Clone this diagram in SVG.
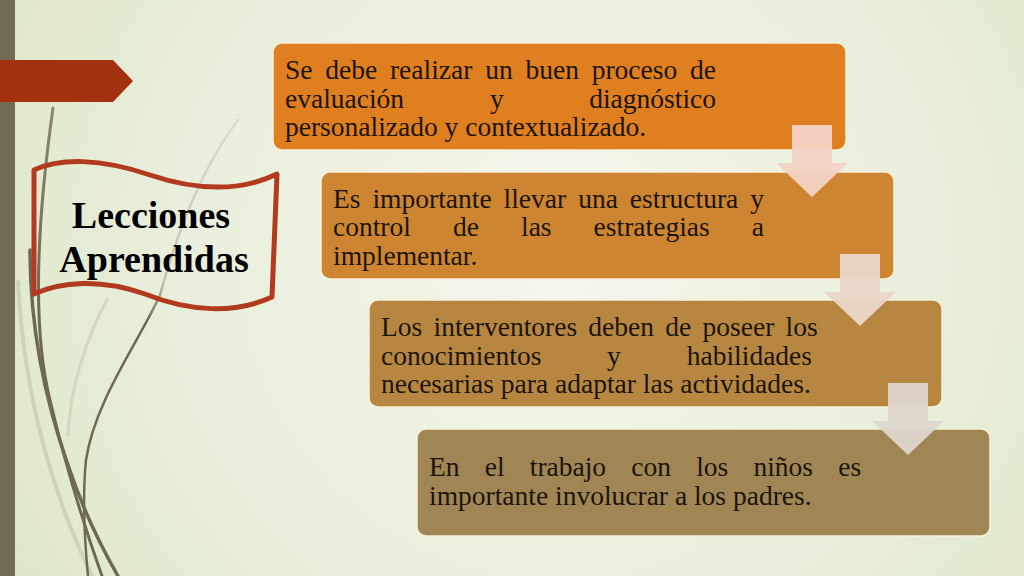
<svg xmlns="http://www.w3.org/2000/svg" width="1024" height="576" viewBox="0 0 1024 576">
<defs>
<radialGradient id="bg" cx="560" cy="260" r="620" gradientUnits="userSpaceOnUse">
<stop offset="0" stop-color="#f4f6ec"/>
<stop offset="0.6" stop-color="#e9efdc"/>
<stop offset="1" stop-color="#dfe7cb"/>
</radialGradient>
<linearGradient id="fade" gradientUnits="userSpaceOnUse" x1="0" y1="130" x2="0" y2="320">
<stop offset="0" stop-color="#d8dccb"/>
<stop offset="0.8" stop-color="#c2c4b2"/>
<stop offset="1" stop-color="#6f6852"/>
</linearGradient>
<linearGradient id="fade2" gradientUnits="userSpaceOnUse" x1="0" y1="105" x2="0" y2="300">
<stop offset="0" stop-color="#8d8670"/>
<stop offset="1" stop-color="#6f6852"/>
</linearGradient>
</defs>
<style>
.box{stroke:#f6f0d8;stroke-width:1.5}
.t{font-family:"Liberation Serif","Times New Roman",serif;font-size:27.5px;fill:#1c140a}
.title{font-family:"Liberation Serif","Times New Roman",serif;font-size:38px;font-weight:bold;fill:#000;text-anchor:middle}
.grass{fill:none;stroke-linecap:round}
</style>
<rect width="1024" height="576" fill="url(#bg)"/>
<g id="decor">
<rect x="0" y="0" width="15" height="576" fill="#736b56"/>
<path class="grass" d="M18 282 C24 400 55 500 92 576" stroke="#c5ccb3" stroke-width="4" opacity="0.75"/>
<path class="grass" d="M107 300 C85 340 70 390 68 435" stroke="#c9cfb9" stroke-width="3" opacity="0.7"/>
<path class="grass" d="M53 108 C40 200 30 320 50 400 C63 455 82 520 102 576" stroke="url(#fade2)" stroke-width="3"/>
<path class="grass" d="M30 250 C30 330 45 400 68 465 C83 510 103 550 118 576" stroke="#6f6852" stroke-width="3.5"/>
<path class="grass" d="M238 120 C200 170 175 240 160 295 C140 340 95 400 86 460 C82 500 85 545 88 576" stroke="url(#fade)" stroke-width="2.5"/>
<polygon points="0,60 113,60 133,81 113,102 0,102" fill="#a3310f"/>
</g>
<g id="banner">
<path d="M34 170 C60 158 100 158 150 175 C195 190 240 192 277 174 L272 297 C235 314 190 312 145 294 C100 278 60 282 34 294 Z" fill="none" stroke="#b23a1f" stroke-width="5" stroke-linejoin="round"/>
<text class="title" x="151" y="228">Lecciones</text>
<text class="title" x="154" y="272">Aprendidas</text>
</g>
<g id="box1">
<rect class="box" x="273" y="43" width="573" height="107" rx="9" fill="#df7f1f"/>
<text class="t" x="285" y="79" word-spacing="5.9">Se debe realizar un buen proceso de</text>
<text class="t" y="107.5"><tspan x="285">evaluación</tspan><tspan x="490">y</tspan><tspan x="716" text-anchor="end">diagnóstico</tspan></text>
<text class="t" x="285" y="136">personalizado y contextualizado.</text>
</g>
<g id="box2">
<rect class="box" x="321" y="172" width="573" height="107" rx="9" fill="#cd8531"/>
<text class="t" x="333" y="207.5" word-spacing="5.1">Es importante llevar una estructura y</text>
<text class="t" x="333" y="236" word-spacing="35.2">control de las estrategias a</text>
<text class="t" x="333" y="264.5">implementar.</text>
</g>
<g id="box3">
<rect class="box" x="369" y="300" width="573" height="107" rx="9" fill="#b78741"/>
<text class="t" x="381" y="336" word-spacing="4.4">Los interventores deben de poseer los</text>
<text class="t" y="364.5"><tspan x="381">conocimientos</tspan><tspan x="607">y</tspan><tspan x="812" text-anchor="end">habilidades</tspan></text>
<text class="t" x="381" y="393">necesarias para adaptar las actividades.</text>
</g>
<g id="box4">
<rect class="box" x="417" y="429" width="573" height="107" rx="9" fill="#a08555"/>
<text class="t" x="429" y="476" word-spacing="18.3">En el trabajo con los niños es</text>
<text class="t" x="429" y="505">importante involucrar a los padres.</text>
</g>
<g id="connectors">
<polygon points="792,125 832,125 832,163 848,163 812,197 776,163 792,163" fill="#f3d3c5" opacity="0.95"/>
<polygon points="840,254 880,254 880,292 896,292 860,326 824,292 840,292" fill="#ead6c9" opacity="0.95"/>
<polygon points="888,383 928,383 928,421 944,421 908,455 872,421 888,421" fill="#ddd6cd" opacity="0.95"/>
</g>
</svg>
